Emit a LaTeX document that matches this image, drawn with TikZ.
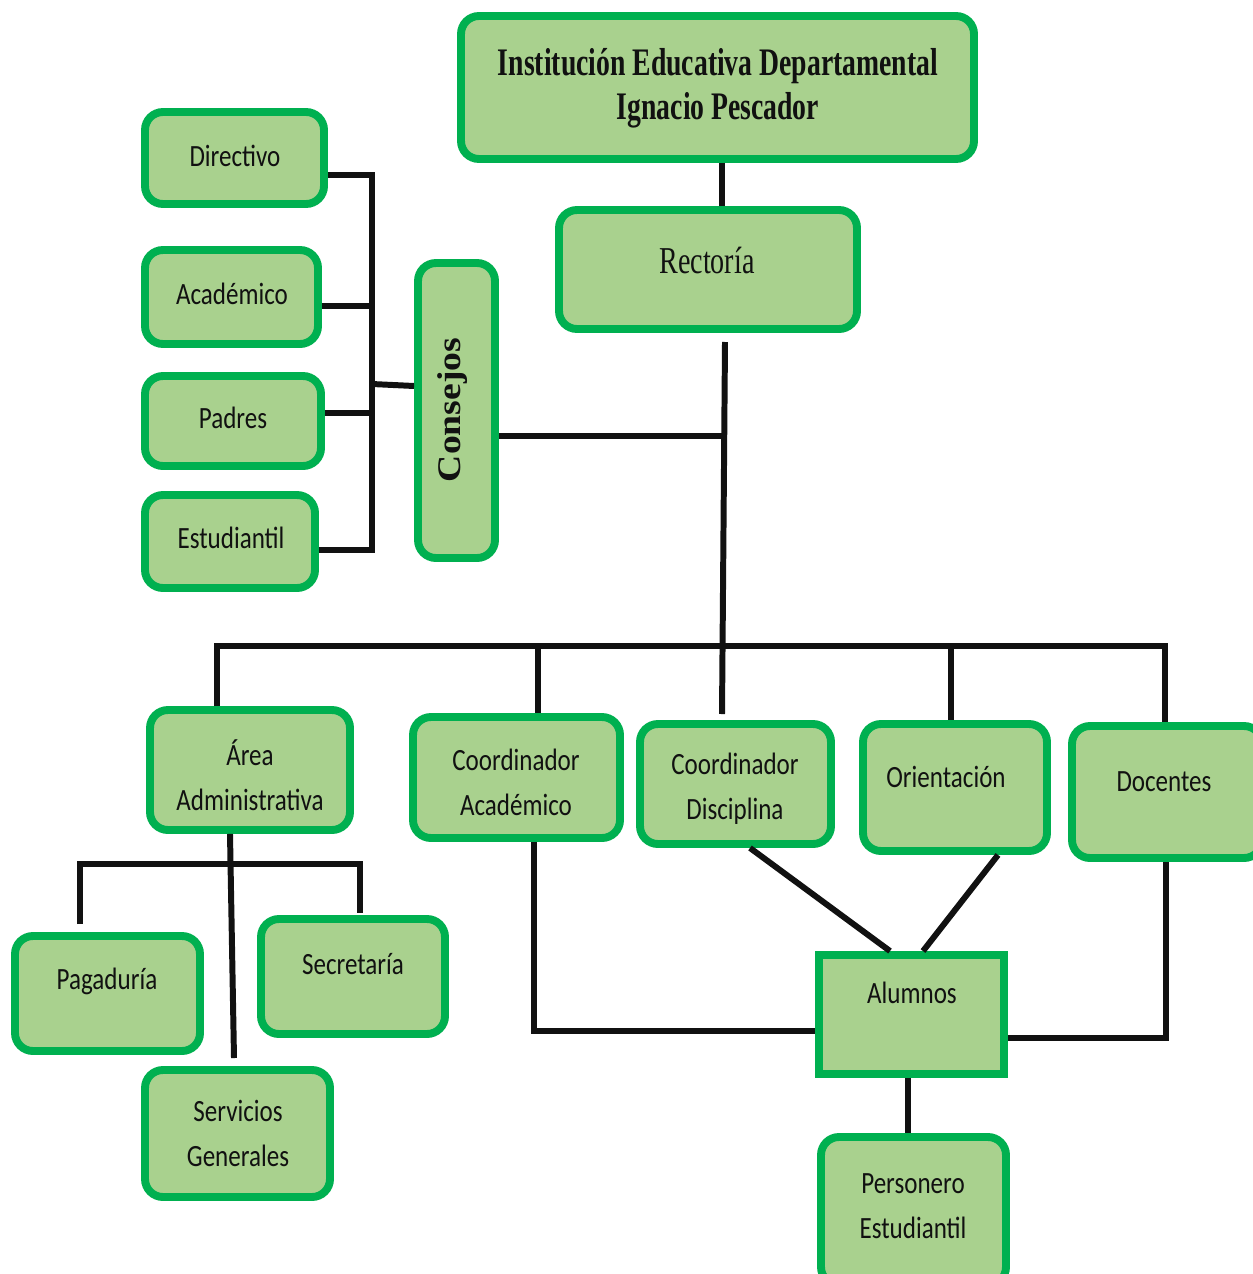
\documentclass[tikz,border=0pt]{standalone}
\usepackage{fontspec}
\setmainfont{Carlito}[FakeStretch=0.81]
\newfontfamily\titlefont{Liberation Serif}[FakeStretch=0.71]
\newfontfamily\rectfont{Liberation Serif}[FakeStretch=0.74]
\newfontfamily\consfont{Liberation Serif}[FakeStretch=1.14]
\usetikzlibrary{fit}
\definecolor{bordergreen}{HTML}{00B050}
\definecolor{fillgreen}{HTML}{A9D18E}
\definecolor{ink}{HTML}{111111}
\begin{document}
\begin{tikzpicture}[x=0.02cm,y=-0.02cm,
  box/.style={draw=bordergreen, fill=fillgreen, line width=4.5pt, rounded corners=0.36cm, inner sep=0pt},
  sqbox/.style={draw=bordergreen, fill=fillgreen, line width=4.5pt, inner sep=0pt},
  conn/.style={draw=ink, line width=3.4pt},
  txt/.style={font=\fontsize{17.6pt}{25.6pt}\selectfont, text=ink, align=center, inner sep=0pt}
]
\useasboundingbox[fill=white] (0,0) rectangle (1252,1274);

% boxes
\node[box, fit={(461,16) (974,159)}] (title) {};
\node[box, fit={(559,210) (857,329)}] (rect) {};
\node[box, fit={(145,112) (324,204)}] (dir) {};
\node[box, fit={(145,250) (318,344)}] (aca) {};
\node[box, fit={(145,376) (321,466)}] (pad) {};
\node[box, fit={(145,495) (315,588)}] (est) {};
\node[box, fit={(418,263) (495,558)}] (cons) {};
\node[box, fit={(150,710) (350,830)}] (area) {};
\node[box, fit={(413,717) (620,838)}] (ca) {};
\node[box, fit={(640,724) (831,844)}] (cd) {};
\node[box, fit={(863,724) (1047,851)}] (ori) {};
\node[box, fit={(1072,726) (1262,858)}] (doc) {};
\node[sqbox, fit={(819,955) (1004,1074)}] (alu) {};
\node[box, fit={(821,1137) (1006,1285)}] (pe) {};
\node[box, fit={(15,936) (200,1051)}] (pag) {};
\node[box, fit={(261,919) (445,1034)}] (sec) {};
\node[box, fit={(145,1070) (330,1197)}] (sg) {};

% texts
\node[txt, font=\titlefont\bfseries\fontsize{22.2pt}{25pt}\selectfont] (titleT) at (718,88) {Institución Educativa Departamental\\Ignacio Pescador};
\node[txt, font=\rectfont\fontsize{21.6pt}{26pt}\selectfont] (rectT) at (707,260) {Rectoría};
\node[txt, rotate=90, font=\consfont\bfseries\fontsize{18.8pt}{22pt}\selectfont] (consT) at (453,410) {Consejos};
\node[txt] (dirT) at (235,156) {Directivo};
\node[txt] (acaT) at (232,294) {Académico};
\node[txt] (padT) at (233,418) {Padres};
\node[txt] (estT) at (231,538) {Estudiantil};
\node[txt] (areaT) at (250,775) {Área\\Administrativa};
\node[txt] (caT) at (516,782) {Coordinador\\Académico};
\node[txt] (cdT) at (735,789) {Coordinador\\Disciplina};
\node[txt] (oriT) at (946,777) {Orientación};
\node[txt] (docT) at (1164,782) {Docentes};
\node[txt] (aluT) at (912,993) {Alumnos};
\node[txt] (peT) at (913,1206) {Personero\\Estudiantil};
\node[txt] (pagT) at (107,981) {Pagaduría};
\node[txt] (secT) at (353,964) {Secretaría};
\node[txt] (sgT) at (238,1133) {Servicios\\Generales};

% title -> rectoria
\draw[conn] (722,0 |- title.south) -- (722,0 |- rect.north);

% consejos group
\coordinate (cjTop) at (372,175);
\coordinate (cjBot) at (372,550);
\coordinate (cjMid) at (372,384);
\draw[conn] (dir.east |- cjTop) -- (cjTop) -- (cjBot) -- (est.east |- cjBot);
\draw[conn] (aca.east |- 0,306) -- (cjTop |- 0,306);
\draw[conn] (pad.east |- 0,413) -- (cjTop |- 0,413);
\draw[conn] (cjMid) -- (cons.west |- 0,386);

% rectoria spine
\coordinate (spTop) at (725,342);
\coordinate (spJoin) at (724,436);
\coordinate (cdTop) at (722,714);
\draw[conn] (spTop) -- (cdTop);
\draw[conn] (cons.east |- spJoin) -- (spJoin);

% main bus
\coordinate (busL) at (217,646);
\coordinate (busR) at (1165,646);
\draw[conn] (busL |- area.north) -- (busL) -- (busR) -- (busR |- doc.north);
\draw[conn] (538,0 |- busL) -- (538,0 |- ca.north);
\draw[conn] (951,0 |- busL) -- (951,0 |- ori.north);

% to alumnos
\draw[conn] (750,0 |- cd.south) -- (890,0 |- alu.north);
\draw[conn] (998,0 |- ori.south) -- (923,0 |- alu.north);
\coordinate (caBend) at (534,1031);
\draw[conn] (caBend |- ca.south) -- (caBend) -- (alu.west |- caBend);
\coordinate (docBend) at (1166,1038);
\draw[conn] (docBend |- doc.south) -- (docBend) -- (alu.east |- docBend);
\draw[conn] (908,0 |- alu.south) -- (908,0 |- pe.north);

% area administrativa subtree
\coordinate (sgTop) at (234,1058);
\draw[conn] (230,0 |- area.south) -- (sgTop);
\coordinate (sbL) at (80,864);
\coordinate (sbR) at (360,864);
\coordinate (pagTop) at (80,924);
\coordinate (secTop) at (360,913);
\draw[conn] (pagTop) -- (sbL) -- (sbR) -- (secTop);
\end{tikzpicture}
\end{document}
